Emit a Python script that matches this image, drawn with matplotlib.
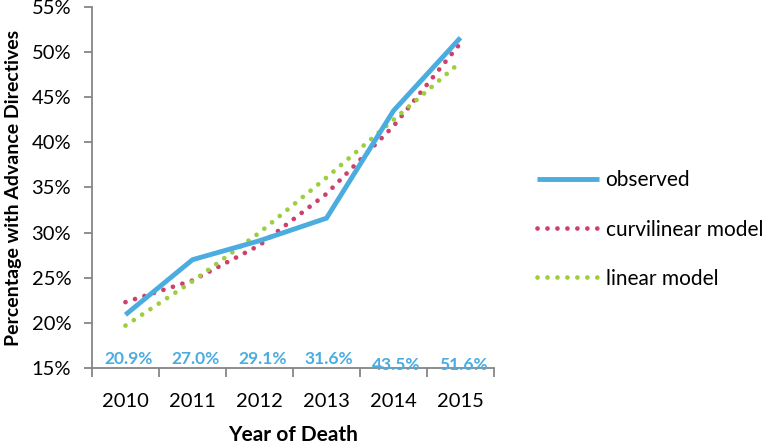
import matplotlib
matplotlib.use("Agg")
import matplotlib.pyplot as plt
from matplotlib.ticker import FixedLocator, PercentFormatter

plt.rcParams['font.family'] = ['Lato', 'DejaVu Sans']

# data
years = ['2010', '2011', '2012', '2013', '2014', '2015']
observed = [20.9, 27.0, 29.1, 31.6, 43.5, 51.6]
curvilinear = [22.3, 24.7, 28.6, 34.3, 41.8, 51.0]
linear = [19.7, 24.6, 30.0, 36.1, 42.5, 48.9]
label_y = [16.05, 16.05, 16.05, 16.05, 15.35, 15.35]

blue = '#4BACDF'
pink = '#CF3F6D'
green = '#9CCF3D'
grey = '#868686'

fig = plt.figure(figsize=(7.71, 4.46), dpi=100)
ax = fig.add_axes([0.1193, 0.1749, 0.5214, 0.8094])

x = list(range(len(years)))
dot = (0, (0.01, 2.1))
ax.plot(x, observed, color=blue, lw=3.5, solid_capstyle='butt', label='observed', zorder=3)
ax.plot(x, curvilinear, color=pink, lw=3.4, linestyle=dot, dash_capstyle='round',
        label='curvilinear model', zorder=2)
ax.plot(x, linear, color=green, lw=3.4, linestyle=dot, dash_capstyle='round',
        label='linear model', zorder=2)

# data labels along the bottom
for xi, v, ly in zip(x, observed, label_y):
    ax.text(xi + 0.04, ly, f"{v:.1f}%", color=blue, fontsize=12.5, fontweight='bold',
            ha='center', va='center', zorder=4, clip_on=False)

ax.set_xlim(-0.5, 5.5)
ax.set_ylim(15, 55)
ax.set_yticks(range(15, 56, 5))
ax.yaxis.set_major_formatter(PercentFormatter(decimals=0))
ax.set_xticks(x)
ax.set_xticklabels(years)
ax.xaxis.set_minor_locator(FixedLocator([i - 0.5 for i in range(len(years) + 1)]))

ax.tick_params(axis='x', which='major', length=0, pad=18, labelsize=14.5)
ax.tick_params(axis='x', which='minor', length=6.5, width=1.3, color=grey)
ax.tick_params(axis='y', length=6, width=1.3, color=grey, labelsize=14.5, pad=9)

for side in ['top', 'right']:
    ax.spines[side].set_visible(False)
for side in ['left', 'bottom']:
    ax.spines[side].set_color(grey)
    ax.spines[side].set_linewidth(1.3)

ax.set_xlabel('Year of Death', fontsize=15, fontweight='bold', labelpad=11)
ax.set_ylabel('Percentage with Advance Directives', fontsize=14, fontweight='bold', labelpad=7)

fig.legend(loc='upper left', bbox_to_anchor=(0.672, 0.66), frameon=False,
           fontsize=15, handlelength=3.0, handletextpad=0.3, labelspacing=1.4)

fig.savefig('out.png', dpi=100)
